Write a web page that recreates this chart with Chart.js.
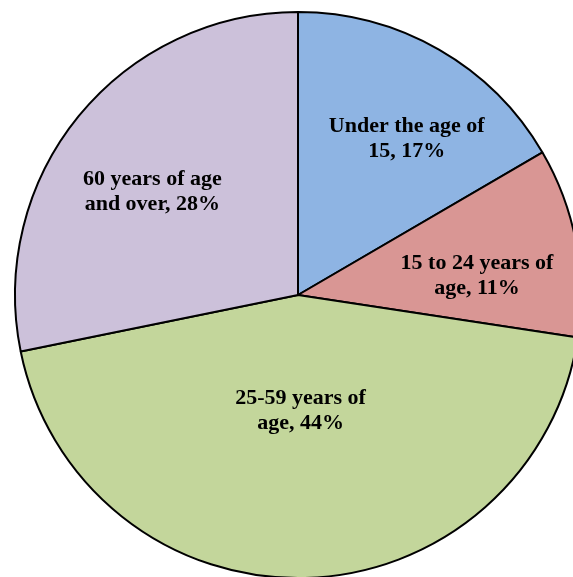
<!DOCTYPE html>
<html>
<head>
<meta charset="utf-8">
<script src="https://cdn.jsdelivr.net/npm/chart.js@4.4.1/dist/chart.umd.min.js"></script>
<style>
	html, body { margin: 0; padding: 0; background: #fff; overflow: hidden; width: 573px; height: 577px; }
	#pieChart { position: absolute; left: 0; top: 0; }
</style>
</head>
<body>
<canvas id="pieChart" width="596" height="590"></canvas>
<script>
const categories = ['Under the age of 15', '15 to 24 years of age', '25-59 years of age', '60 years of age and over'];
const shares = [16.6, 10.8, 44.4, 28.2];
// slice label text, one entry per line; the percentage is added to the last line
const labelLines = [
	['Under the age of', '15'],
	['15 to 24 years of', 'age'],
	['25-59 years of', 'age'],
	['60 years of age', 'and over']
];
const sliceColors = ['#8EB4E3', '#D99694', '#C3D69B', '#CCC1DA'];

function pieChartConfig() {
	// label placement: fraction of radius and small turn (deg) off the slice's middle angle
	const labelRadius = [0.672, 0.636, 0.41, 0.63];
	const labelTurn = [5.0, 4.7, 0.2, -4.0];

	const sliceLabelPlugin = {
		id: 'sliceLabelPlugin',
		afterDatasetsDraw(chart) {
			const { ctx } = chart;
			const meta = chart.getDatasetMeta(0);
			const data = chart.data.datasets[0].data;
			const total = data.reduce((a, b) => a + b, 0);
			ctx.save();
			ctx.textAlign = 'center';
			ctx.textBaseline = 'middle';
			ctx.font = 'bold 22px "Liberation Serif", "Times New Roman", serif';
			ctx.fillStyle = '#000';
			meta.data.forEach((arc, i) => {
				const { x, y, startAngle, endAngle, outerRadius } = arc.getProps(['x', 'y', 'startAngle', 'endAngle', 'outerRadius'], true);
				const mid = (startAngle + endAngle) / 2 + labelTurn[i] * Math.PI / 180;
				const r = outerRadius * labelRadius[i];
				const cx = x + Math.cos(mid) * r;
				const cy = y + Math.sin(mid) * r;
				const pct = Math.round(data[i] / total * 100);
				const lines = labelLines[i].slice();
				lines[lines.length - 1] += `, ${pct}%`;
				const lh = 25;
				lines.forEach((line, j) => {
					ctx.fillText(line, cx, cy + (j - (lines.length - 1) / 2) * lh);
				});
			});
			ctx.restore();
		}
	};

	const canvas = document.getElementById('pieChart');
	if (!canvas) return;
	const ctx = canvas.getContext('2d');

	new Chart(ctx, {
		type: 'pie',
		data: {
			labels: categories,
			datasets: [{
				data: shares,
				backgroundColor: sliceColors,
				borderColor: '#000',
				borderWidth: 2,
				hoverOffset: 0
			}]
		},
		options: {
			responsive: false,
			animation: false,
			devicePixelRatio: 1,
			radius: 283,
			layout: { padding: 0 },
			plugins: {
				legend: { display: false },
				tooltip: { enabled: false }
			}
		},
		plugins: [sliceLabelPlugin]
	});
}
document.addEventListener('DOMContentLoaded', pieChartConfig);
</script>
</body>
</html>
